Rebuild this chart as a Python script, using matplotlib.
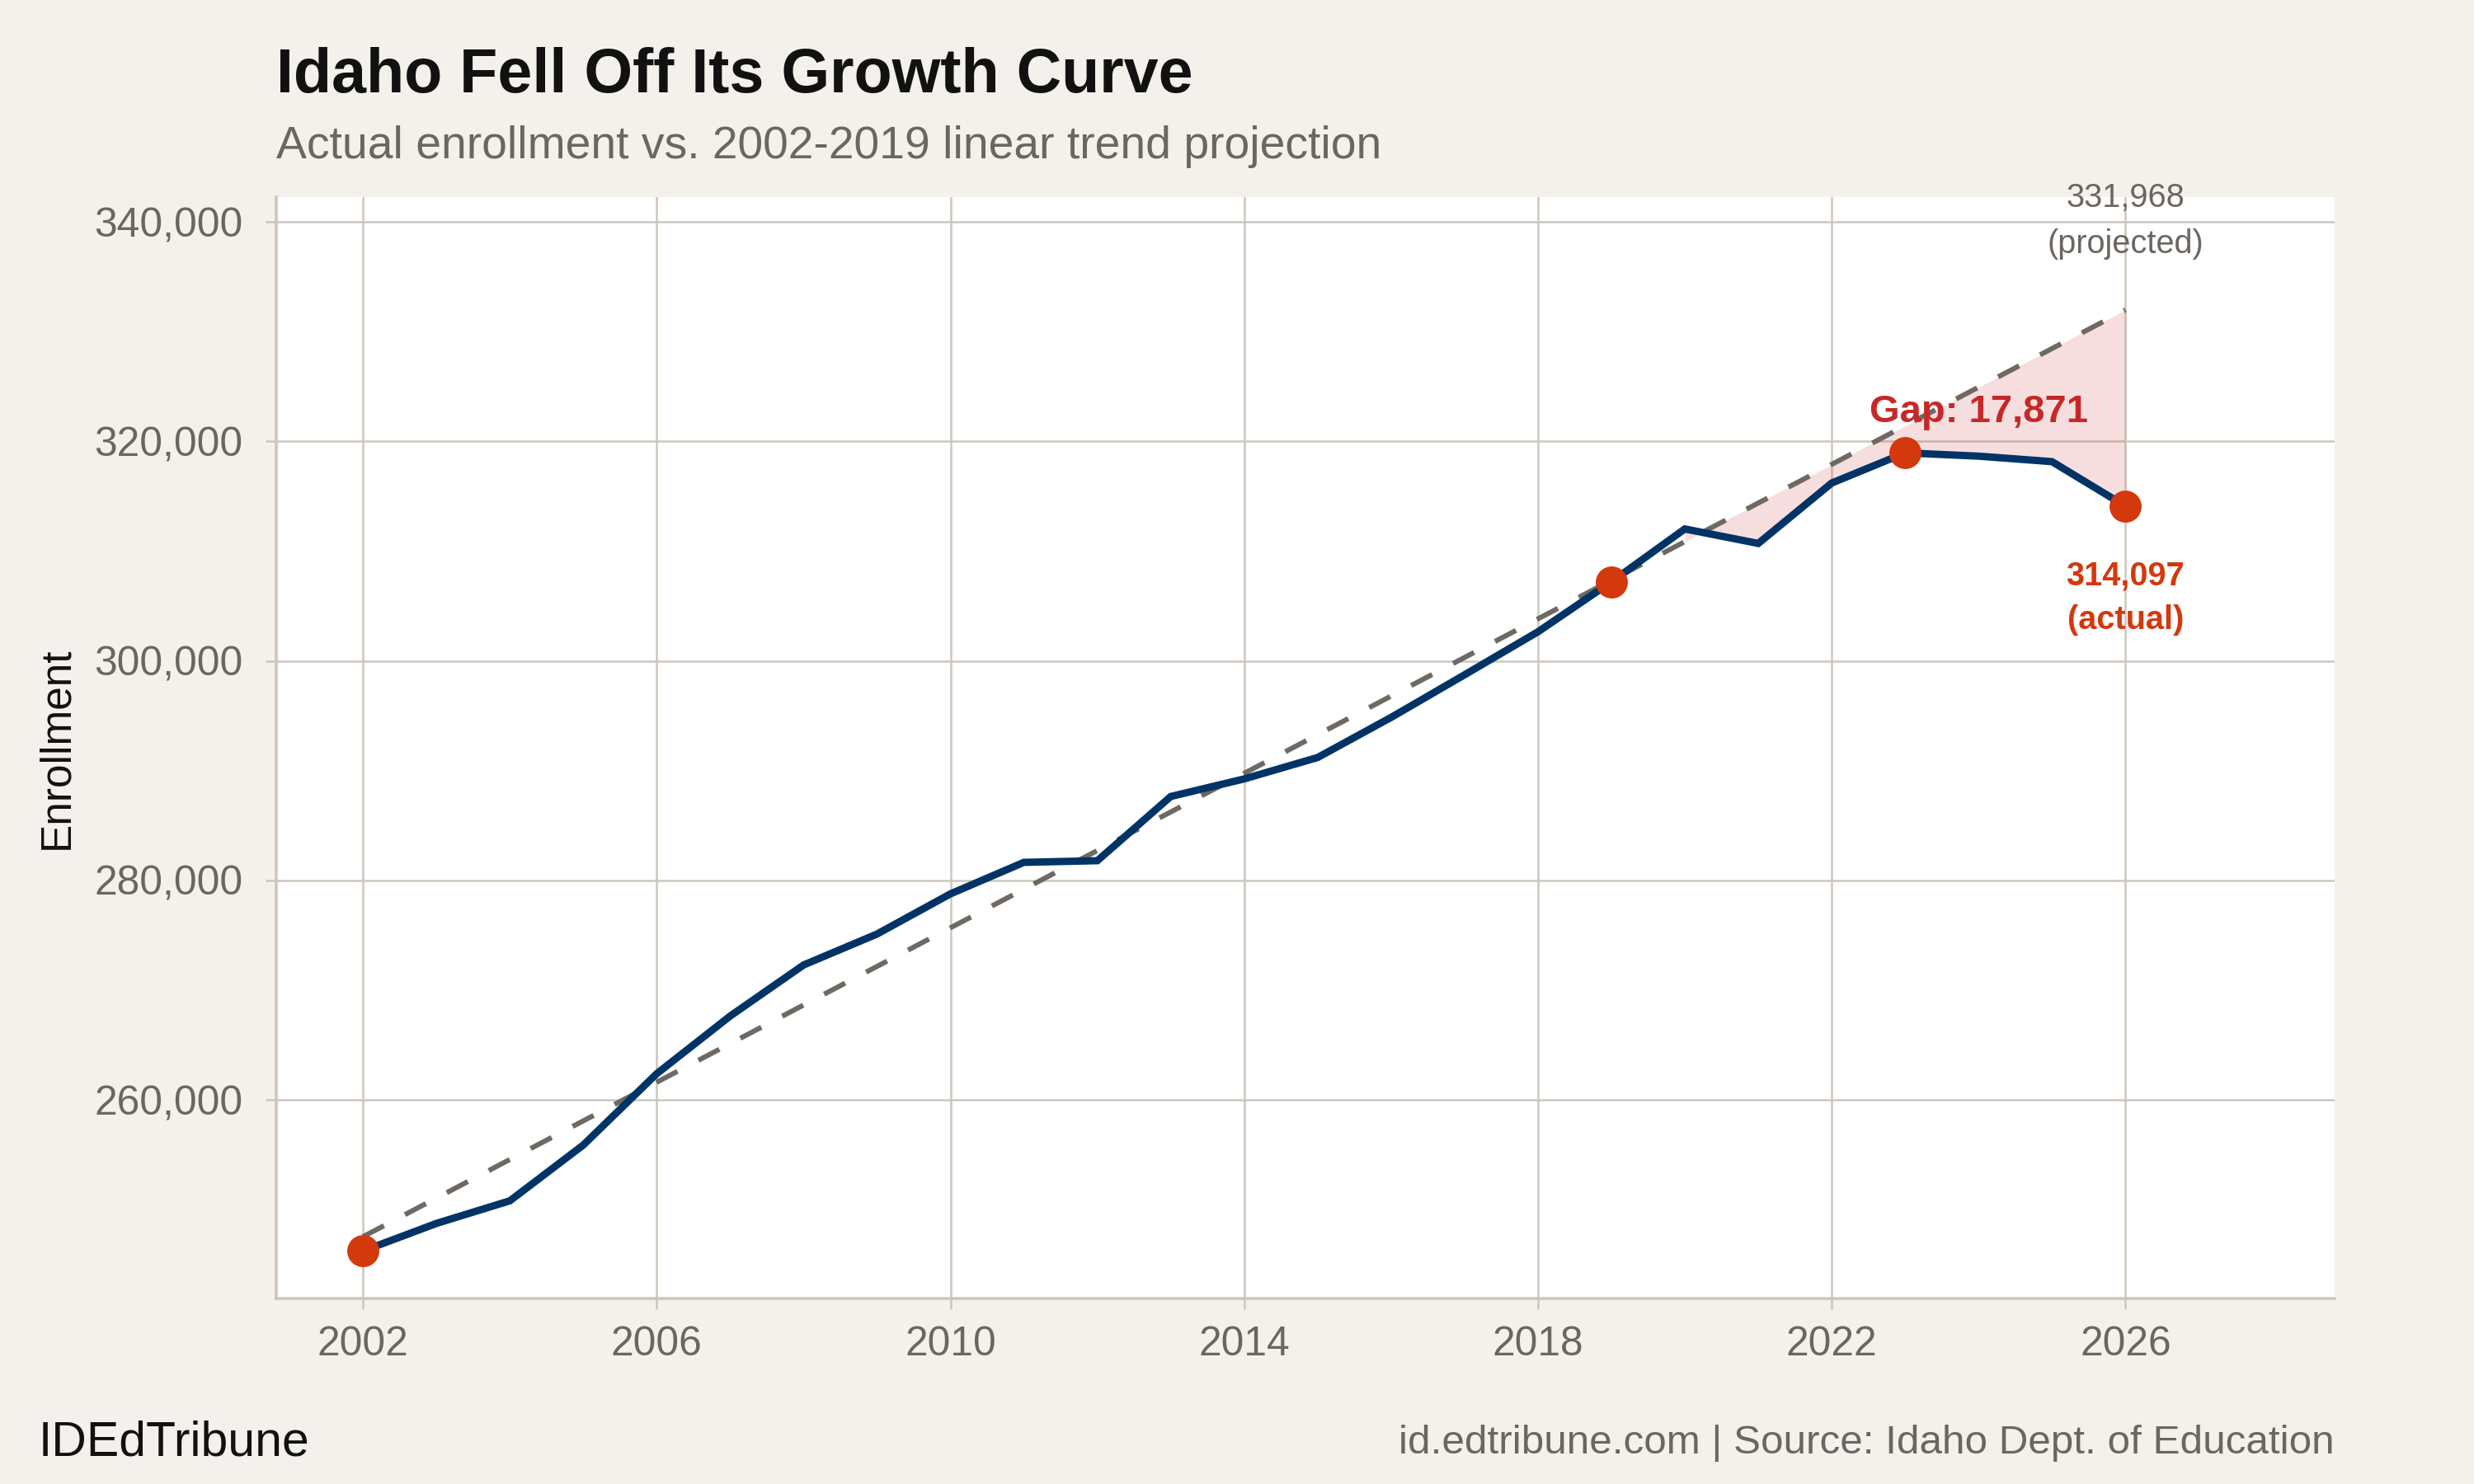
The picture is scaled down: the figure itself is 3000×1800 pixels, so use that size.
import matplotlib as mpl
import matplotlib.pyplot as plt
import numpy as np
from matplotlib.ticker import FuncFormatter

mpl.rcParams.update(
    {
        "font.family": ["Liberation Sans", "DejaVu Sans"],
        "axes.spines.top": False,
        "axes.spines.right": False,
    }
)

# enrollment
years = [2002, 2003, 2004, 2005, 2006, 2007, 2008, 2009, 2010, 2011, 2012, 2013,
         2014, 2015, 2016, 2017, 2018, 2019, 2020, 2021, 2022, 2023, 2024, 2025, 2026]
enrollment = [246250, 248760, 250820, 255900, 262400, 267650, 272300, 275120, 278780,
              281650, 281800, 287650, 289250, 291200, 294850, 298730, 302650, 307200,
              312020, 310700, 316200, 318950, 318650, 318150, 314097]

# 2002-2019 linear trend, extended to 2026
trend_years = [2002, 2026]
trend_values = [247550, 331968]

highlight_years = [2002, 2019, 2023, 2026]
gap_start_year = 2020
gap_label_year = 2024

x_ticks = [2002, 2006, 2010, 2014, 2018, 2022, 2026]
y_ticks = [260000, 280000, 300000, 320000, 340000]

BG = "#F4F1EC"
GRID = "#CDC6BC"
NAVY = "#003366"
DOT = "#D4380D"
GAP_RED = "#C62828"
DASH = "#6E6963"
GRAY_TEXT = "#6B6661"

yrs = np.array(years)
vals = np.array(enrollment, dtype=float)
by_year = dict(zip(years, enrollment))

fig = plt.figure(figsize=(15, 9), dpi=200, facecolor=BG)
ax = fig.add_axes([0.1117, 0.125, 0.8320, 0.7422])
ax.set_facecolor("white")

# shaded gap between the projection and what actually happened
mask = yrs >= gap_start_year
trend_on_years = np.interp(yrs[mask], trend_years, trend_values)
ax.fill_between(yrs[mask], vals[mask], trend_on_years, color=GAP_RED, alpha=0.15,
                linewidth=0, zorder=2)

ax.plot(trend_years, trend_values, color=DASH, linewidth=2.2, dashes=(4.7, 4.7), zorder=3)
ax.plot(yrs, vals, color=NAVY, linewidth=3.2, solid_joinstyle="miter", zorder=4)
ax.plot(highlight_years, [by_year[y] for y in highlight_years], "o", color=DOT,
        markersize=14, markeredgewidth=0, zorder=5)

# annotations
end_year = trend_years[-1]
proj_end = trend_values[-1]
actual_end = by_year[end_year]
ax.annotate(f"{proj_end:,}", (end_year, proj_end), xytext=(0, 45), textcoords="offset points",
            ha="center", va="baseline", fontsize=14.3, color=GRAY_TEXT)
ax.annotate("(projected)", (end_year, proj_end), xytext=(0, 25), textcoords="offset points",
            ha="center", va="baseline", fontsize=14.3, color=GRAY_TEXT)
ax.annotate(f"{actual_end:,}", (end_year, actual_end), xytext=(0, -34.5), textcoords="offset points",
            ha="center", va="baseline", fontsize=14.3, color=DOT, fontweight="bold")
ax.annotate("(actual)", (end_year, actual_end), xytext=(0, -53.5), textcoords="offset points",
            ha="center", va="baseline", fontsize=14.3, color=DOT, fontweight="bold")
ax.annotate(f"Gap: {proj_end - actual_end:,}", (gap_label_year, by_year[gap_label_year]),
            xytext=(0, 15), textcoords="offset points", ha="center", va="baseline",
            fontsize=17, color=GAP_RED, fontweight="bold")

ax.set_xlim(2000.82, 2028.85)
ax.set_ylim(241920, 342250)
ax.set_xticks(x_ticks)
ax.set_yticks(y_ticks)
ax.yaxis.set_major_formatter(FuncFormatter(lambda v, _: f"{int(v):,}"))
ax.grid(True, color=GRID, linewidth=0.9)
ax.set_axisbelow(True)
for side in ("left", "bottom"):
    ax.spines[side].set_color(GRID)
    ax.spines[side].set_linewidth(1.3)
ax.tick_params(axis="both", colors=GRID, length=4.7, width=0.9, labelsize=17.9,
               labelcolor=GRAY_TEXT)
ax.tick_params(axis="x", pad=7)
ax.tick_params(axis="y", pad=10)

fig.text(0.023, 0.4961, "Enrollment", rotation=90, ha="center", va="center",
         fontsize=18.5, color="#111111")

fig.text(0.1117, 0.9378, "Idaho Fell Off Its Growth Curve", ha="left", va="baseline",
         fontsize=27.2, fontweight="bold", color="#111111")
fig.text(0.1117, 0.8933, "Actual enrollment vs. 2002-2019 linear trend projection",
         ha="left", va="baseline", fontsize=19.9, color=GRAY_TEXT)

fig.text(0.0155, 0.0190, "IDEdTribune", ha="left", va="baseline", fontsize=21.2,
         color="#111111")
fig.text(0.9437, 0.0205, "id.edtribune.com | Source: Idaho Dept. of Education",
         ha="right", va="baseline", fontsize=17.8, color=GRAY_TEXT)

fig.savefig("out.png", dpi=200, facecolor=BG)
